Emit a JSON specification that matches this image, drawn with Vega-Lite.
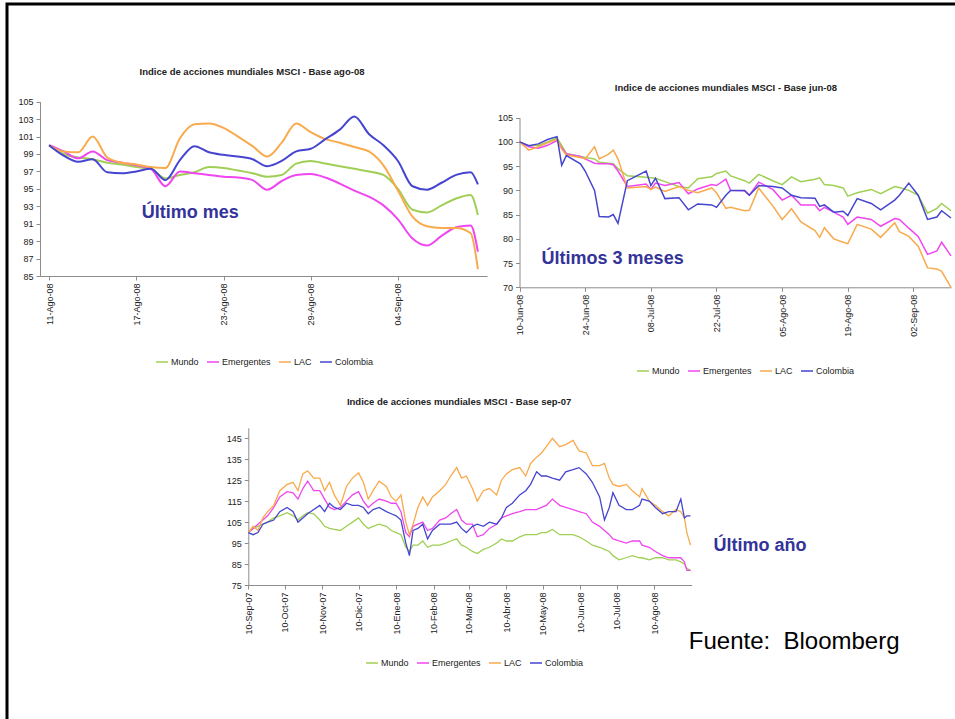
{
"$schema": "https://vega.github.io/schema/vega-lite/v6.json",
"width": 948, "height": 715,
"autosize": {"type": "none"},
"padding": {"left": 7, "top": 4, "right": 0, "bottom": 0},
"background": "white",
"view": {"stroke": "#000000", "strokeWidth": 3, "strokeDash": [949, 1662, 716, 1], "fill": "white"},
"config": {
  "font": "Liberation Sans",
  "axis": {"grid": false, "labelFontSize": 9, "labelColor": "#222222", "domainColor": "#8c8c8c", "tickColor": "#8c8c8c", "tickSize": 4, "labelPadding": 3, "labelOverlap": false},
  "legend": {"labelFontSize": 9, "labelColor": "#222222", "symbolType": "stroke", "symbolSize": 144, "symbolStrokeWidth": 1.5, "columnPadding": 5, "labelOffset": 2, "padding": 0}
},
"datasets": {
"mes": [
{"f":"2008-08-11T00:00","Mundo":100,"Emergentes":100,"LAC":100,"Colombia":100},
{"f":"2008-08-12T00:00","Mundo":99.0,"Emergentes":99.3,"LAC":99.3,"Colombia":98.8},
{"f":"2008-08-13T00:00","Mundo":98.6,"Emergentes":98.5,"LAC":99.2,"Colombia":98.1},
{"f":"2008-08-14T00:00","Mundo":98.4,"Emergentes":99.3,"LAC":101.0,"Colombia":98.4},
{"f":"2008-08-15T00:00","Mundo":98.0,"Emergentes":98.3,"LAC":98.6,"Colombia":96.9},
{"f":"2008-08-16T00:00","Mundo":97.8,"Emergentes":98.0,"LAC":98.0,"Colombia":96.8},
{"f":"2008-08-17T00:00","Mundo":97.5,"Emergentes":97.7,"LAC":97.8,"Colombia":97.0},
{"f":"2008-08-18T00:00","Mundo":97.3,"Emergentes":97.3,"LAC":97.5,"Colombia":97.3},
{"f":"2008-08-19T00:00","Mundo":96.2,"Emergentes":95.3,"LAC":97.4,"Colombia":96.0},
{"f":"2008-08-20T00:00","Mundo":96.6,"Emergentes":97.0,"LAC":100.8,"Colombia":98.3},
{"f":"2008-08-21T00:00","Mundo":96.9,"Emergentes":96.8,"LAC":102.4,"Colombia":99.9},
{"f":"2008-08-22T00:00","Mundo":97.5,"Emergentes":96.6,"LAC":102.5,"Colombia":99.2},
{"f":"2008-08-23T00:00","Mundo":97.4,"Emergentes":96.4,"LAC":102.0,"Colombia":98.9},
{"f":"2008-08-24T00:00","Mundo":97.1,"Emergentes":96.3,"LAC":101.0,"Colombia":98.7},
{"f":"2008-08-25T00:00","Mundo":96.8,"Emergentes":96.0,"LAC":99.9,"Colombia":98.4},
{"f":"2008-08-26T00:00","Mundo":96.4,"Emergentes":94.9,"LAC":98.7,"Colombia":97.6},
{"f":"2008-08-27T00:00","Mundo":96.6,"Emergentes":95.9,"LAC":100.3,"Colombia":98.2},
{"f":"2008-08-28T00:00","Mundo":97.9,"Emergentes":96.6,"LAC":102.5,"Colombia":99.3},
{"f":"2008-08-29T00:00","Mundo":98.2,"Emergentes":96.7,"LAC":101.5,"Colombia":99.6},
{"f":"2008-08-30T00:00","Mundo":97.9,"Emergentes":96.3,"LAC":100.7,"Colombia":100.7},
{"f":"2008-08-31T00:00","Mundo":97.6,"Emergentes":95.6,"LAC":100.3,"Colombia":101.8},
{"f":"2008-09-01T00:00","Mundo":97.3,"Emergentes":94.8,"LAC":99.8,"Colombia":103.3},
{"f":"2008-09-02T00:00","Mundo":97.0,"Emergentes":94.1,"LAC":99.3,"Colombia":101.3},
{"f":"2008-09-03T00:00","Mundo":96.6,"Emergentes":93.1,"LAC":97.7,"Colombia":100.0},
{"f":"2008-09-04T00:00","Mundo":95.0,"Emergentes":91.5,"LAC":94.8,"Colombia":98.2},
{"f":"2008-09-05T00:00","Mundo":92.6,"Emergentes":89.3,"LAC":91.8,"Colombia":95.3},
{"f":"2008-09-06T00:00","Mundo":92.3,"Emergentes":88.5,"LAC":90.7,"Colombia":94.9},
{"f":"2008-09-07T00:00","Mundo":93.1,"Emergentes":89.6,"LAC":90.5,"Colombia":95.7},
{"f":"2008-09-08T00:00","Mundo":93.9,"Emergentes":90.6,"LAC":90.5,"Colombia":96.6},
{"f":"2008-09-09T00:00","Mundo":94.3,"Emergentes":90.8,"LAC":89.9,"Colombia":96.9},
{"f":"2008-09-09T12:00","Mundo":92.0,"Emergentes":87.8,"LAC":85.8,"Colombia":95.5}
],
"tres": [
{"f":"2008-06-10T00:00","Mundo":100,"Emergentes":100,"LAC":100,"Colombia":100},
{"f":"2008-06-12T00:00","Mundo":99.2,"Emergentes":99,"LAC":98.3,"Colombia":99.2},
{"f":"2008-06-14T00:00","Mundo":99.3,"Emergentes":98.7,"LAC":99,"Colombia":99.6},
{"f":"2008-06-16T00:00","Mundo":100,"Emergentes":99.3,"LAC":99.8,"Colombia":100.5},
{"f":"2008-06-18T00:00","Mundo":100.8,"Emergentes":100.3,"LAC":100.5,"Colombia":101.1},
{"f":"2008-06-19T00:00","Mundo":99.3,"Emergentes":98.8,"LAC":98.5,"Colombia":95.2},
{"f":"2008-06-20T00:00","Mundo":97.6,"Emergentes":97.5,"LAC":97.3,"Colombia":97.2},
{"f":"2008-06-23T00:00","Mundo":97,"Emergentes":97,"LAC":96.8,"Colombia":95.5},
{"f":"2008-06-24T00:00","Mundo":96.8,"Emergentes":96.5,"LAC":96.5,"Colombia":94},
{"f":"2008-06-26T00:00","Mundo":96.5,"Emergentes":95.6,"LAC":99,"Colombia":90},
{"f":"2008-06-27T00:00","Mundo":95.8,"Emergentes":95.5,"LAC":96.5,"Colombia":84.6},
{"f":"2008-06-29T00:00","Mundo":95.6,"Emergentes":95.5,"LAC":97.5,"Colombia":84.5},
{"f":"2008-06-30T00:00","Mundo":95.5,"Emergentes":95.3,"LAC":98.3,"Colombia":85},
{"f":"2008-07-01T00:00","Mundo":94.5,"Emergentes":94,"LAC":96.5,"Colombia":83.2},
{"f":"2008-07-03T00:00","Mundo":93,"Emergentes":90.8,"LAC":90.5,"Colombia":92},
{"f":"2008-07-07T00:00","Mundo":92.7,"Emergentes":91.3,"LAC":90.8,"Colombia":94},
{"f":"2008-07-08T00:00","Mundo":92.6,"Emergentes":90.2,"LAC":90.2,"Colombia":91},
{"f":"2008-07-09T00:00","Mundo":92.5,"Emergentes":91.5,"LAC":90.7,"Colombia":92.5},
{"f":"2008-07-11T00:00","Mundo":91.8,"Emergentes":91,"LAC":89.8,"Colombia":88.3},
{"f":"2008-07-14T00:00","Mundo":90.8,"Emergentes":91.6,"LAC":90.8,"Colombia":88.5},
{"f":"2008-07-16T00:00","Mundo":90.5,"Emergentes":89.3,"LAC":90,"Colombia":86},
{"f":"2008-07-18T00:00","Mundo":92.4,"Emergentes":90.3,"LAC":89.5,"Colombia":87.2},
{"f":"2008-07-21T00:00","Mundo":92.8,"Emergentes":91.2,"LAC":90.5,"Colombia":87},
{"f":"2008-07-22T00:00","Mundo":93.5,"Emergentes":91,"LAC":89.5,"Colombia":86.5},
{"f":"2008-07-24T00:00","Mundo":94,"Emergentes":92.3,"LAC":86.3,"Colombia":89},
{"f":"2008-07-25T00:00","Mundo":93,"Emergentes":90,"LAC":86.5,"Colombia":90},
{"f":"2008-07-28T00:00","Mundo":92,"Emergentes":89.9,"LAC":85.8,"Colombia":90},
{"f":"2008-07-29T00:00","Mundo":91.5,"Emergentes":89,"LAC":85.9,"Colombia":89},
{"f":"2008-07-31T00:00","Mundo":93.3,"Emergentes":91.7,"LAC":90.5,"Colombia":91},
{"f":"2008-08-03T00:00","Mundo":92,"Emergentes":90.2,"LAC":86.8,"Colombia":90.8},
{"f":"2008-08-05T00:00","Mundo":91.2,"Emergentes":88,"LAC":84,"Colombia":90.5},
{"f":"2008-08-07T00:00","Mundo":92.8,"Emergentes":89,"LAC":86.2,"Colombia":89},
{"f":"2008-08-09T00:00","Mundo":91.8,"Emergentes":87,"LAC":83.5,"Colombia":88.5},
{"f":"2008-08-12T00:00","Mundo":92.3,"Emergentes":87,"LAC":81.7,"Colombia":88.4},
{"f":"2008-08-13T00:00","Mundo":92.6,"Emergentes":85.8,"LAC":80.3,"Colombia":86.7},
{"f":"2008-08-14T00:00","Mundo":91.2,"Emergentes":86.5,"LAC":82.3,"Colombia":87},
{"f":"2008-08-16T00:00","Mundo":91,"Emergentes":85.5,"LAC":80,"Colombia":85.5},
{"f":"2008-08-18T00:00","Mundo":90.5,"Emergentes":84.5,"LAC":79.3,"Colombia":85.7},
{"f":"2008-08-19T00:00","Mundo":88.8,"Emergentes":83,"LAC":79,"Colombia":84.8},
{"f":"2008-08-21T00:00","Mundo":89.5,"Emergentes":84.5,"LAC":83,"Colombia":88.3},
{"f":"2008-08-24T00:00","Mundo":90.2,"Emergentes":84,"LAC":82,"Colombia":87.3},
{"f":"2008-08-26T00:00","Mundo":89.3,"Emergentes":82.6,"LAC":80.3,"Colombia":86},
{"f":"2008-08-29T00:00","Mundo":90.8,"Emergentes":84.2,"LAC":83.3,"Colombia":88},
{"f":"2008-08-30T00:00","Mundo":90.6,"Emergentes":84,"LAC":81.5,"Colombia":89},
{"f":"2008-09-01T00:00","Mundo":90,"Emergentes":82.2,"LAC":80.5,"Colombia":91.5},
{"f":"2008-09-03T00:00","Mundo":89,"Emergentes":80.5,"LAC":78.5,"Colombia":89},
{"f":"2008-09-05T00:00","Mundo":85.3,"Emergentes":76.8,"LAC":74,"Colombia":84},
{"f":"2008-09-07T00:00","Mundo":86.3,"Emergentes":77.5,"LAC":73.8,"Colombia":84.5},
{"f":"2008-09-08T00:00","Mundo":87.3,"Emergentes":79.3,"LAC":73.3,"Colombia":85.8},
{"f":"2008-09-10T00:00","Mundo":85.8,"Emergentes":76.5,"LAC":70,"Colombia":84.3}
],
"anio": [
{"f":"2007-09-10T00:00","Mundo":100,"Emergentes":100,"LAC":100,"Colombia":100},
{"f":"2007-09-14T00:00","Mundo":102,"Emergentes":102,"LAC":103,"Colombia":99},
{"f":"2007-09-18T00:00","Mundo":103,"Emergentes":104,"LAC":101,"Colombia":100},
{"f":"2007-09-22T00:00","Mundo":104,"Emergentes":106,"LAC":107,"Colombia":104},
{"f":"2007-09-26T00:00","Mundo":105,"Emergentes":108,"LAC":110,"Colombia":105},
{"f":"2007-10-01T00:00","Mundo":107,"Emergentes":112,"LAC":113,"Colombia":106},
{"f":"2007-10-06T00:00","Mundo":108,"Emergentes":117,"LAC":120,"Colombia":110},
{"f":"2007-10-12T00:00","Mundo":109.5,"Emergentes":119.5,"LAC":123,"Colombia":112},
{"f":"2007-10-17T00:00","Mundo":108,"Emergentes":119,"LAC":124,"Colombia":110},
{"f":"2007-10-21T00:00","Mundo":106,"Emergentes":116,"LAC":120,"Colombia":105},
{"f":"2007-10-25T00:00","Mundo":108,"Emergentes":121,"LAC":128,"Colombia":107},
{"f":"2007-10-29T00:00","Mundo":109.5,"Emergentes":124.5,"LAC":129.5,"Colombia":109},
{"f":"2007-11-03T00:00","Mundo":109,"Emergentes":120,"LAC":126,"Colombia":111},
{"f":"2007-11-08T00:00","Mundo":106,"Emergentes":120,"LAC":126,"Colombia":113},
{"f":"2007-11-12T00:00","Mundo":103,"Emergentes":116,"LAC":120,"Colombia":110},
{"f":"2007-11-16T00:00","Mundo":102,"Emergentes":112,"LAC":124,"Colombia":114},
{"f":"2007-11-20T00:00","Mundo":101.5,"Emergentes":111,"LAC":118,"Colombia":112},
{"f":"2007-11-25T00:00","Mundo":101,"Emergentes":112,"LAC":113,"Colombia":111},
{"f":"2007-11-30T00:00","Mundo":103,"Emergentes":115,"LAC":122,"Colombia":114},
{"f":"2007-12-05T00:00","Mundo":105,"Emergentes":118,"LAC":126,"Colombia":113},
{"f":"2007-12-10T00:00","Mundo":107,"Emergentes":119.5,"LAC":128.5,"Colombia":113},
{"f":"2007-12-14T00:00","Mundo":104,"Emergentes":115,"LAC":124,"Colombia":112},
{"f":"2007-12-18T00:00","Mundo":102,"Emergentes":112,"LAC":116,"Colombia":109},
{"f":"2007-12-22T00:00","Mundo":103,"Emergentes":114,"LAC":120,"Colombia":111},
{"f":"2007-12-27T00:00","Mundo":104,"Emergentes":116,"LAC":124.5,"Colombia":112},
{"f":"2008-01-02T00:00","Mundo":103,"Emergentes":115,"LAC":122,"Colombia":110},
{"f":"2008-01-06T00:00","Mundo":101,"Emergentes":114,"LAC":117,"Colombia":109},
{"f":"2008-01-10T00:00","Mundo":100,"Emergentes":114,"LAC":115,"Colombia":108},
{"f":"2008-01-14T00:00","Mundo":99,"Emergentes":110,"LAC":118,"Colombia":106},
{"f":"2008-01-18T00:00","Mundo":93,"Emergentes":100,"LAC":105,"Colombia":95},
{"f":"2008-01-21T00:00","Mundo":91,"Emergentes":98,"LAC":99,"Colombia":89},
{"f":"2008-01-24T00:00","Mundo":94,"Emergentes":103,"LAC":104,"Colombia":101},
{"f":"2008-01-28T00:00","Mundo":94,"Emergentes":104,"LAC":112,"Colombia":102},
{"f":"2008-02-01T00:00","Mundo":96,"Emergentes":105,"LAC":117,"Colombia":104},
{"f":"2008-02-05T00:00","Mundo":93,"Emergentes":101,"LAC":113,"Colombia":97},
{"f":"2008-02-09T00:00","Mundo":94,"Emergentes":102,"LAC":117,"Colombia":101},
{"f":"2008-02-15T00:00","Mundo":94,"Emergentes":106,"LAC":120,"Colombia":104},
{"f":"2008-02-20T00:00","Mundo":95,"Emergentes":107,"LAC":123,"Colombia":104},
{"f":"2008-02-24T00:00","Mundo":96,"Emergentes":109,"LAC":127,"Colombia":104},
{"f":"2008-02-29T00:00","Mundo":97,"Emergentes":111,"LAC":131,"Colombia":105},
{"f":"2008-03-04T00:00","Mundo":94,"Emergentes":106,"LAC":126,"Colombia":102},
{"f":"2008-03-08T00:00","Mundo":93,"Emergentes":104,"LAC":127,"Colombia":100},
{"f":"2008-03-13T00:00","Mundo":91,"Emergentes":104,"LAC":121,"Colombia":103},
{"f":"2008-03-17T00:00","Mundo":90,"Emergentes":98,"LAC":115,"Colombia":104},
{"f":"2008-03-22T00:00","Mundo":92,"Emergentes":99,"LAC":120,"Colombia":103},
{"f":"2008-03-27T00:00","Mundo":93,"Emergentes":102,"LAC":121,"Colombia":105},
{"f":"2008-04-02T00:00","Mundo":95,"Emergentes":104,"LAC":118,"Colombia":104},
{"f":"2008-04-06T00:00","Mundo":97,"Emergentes":107,"LAC":125,"Colombia":107},
{"f":"2008-04-10T00:00","Mundo":96,"Emergentes":108,"LAC":128,"Colombia":112},
{"f":"2008-04-15T00:00","Mundo":96,"Emergentes":109,"LAC":130,"Colombia":114},
{"f":"2008-04-21T00:00","Mundo":98,"Emergentes":110,"LAC":131,"Colombia":118},
{"f":"2008-04-26T00:00","Mundo":99,"Emergentes":111,"LAC":127,"Colombia":120},
{"f":"2008-04-30T00:00","Mundo":99,"Emergentes":111,"LAC":133,"Colombia":123},
{"f":"2008-05-05T00:00","Mundo":99,"Emergentes":111,"LAC":136,"Colombia":129},
{"f":"2008-05-09T00:00","Mundo":100,"Emergentes":112,"LAC":138,"Colombia":127},
{"f":"2008-05-13T00:00","Mundo":100,"Emergentes":113,"LAC":141,"Colombia":127},
{"f":"2008-05-18T00:00","Mundo":101.5,"Emergentes":116,"LAC":145,"Colombia":126},
{"f":"2008-05-24T00:00","Mundo":99,"Emergentes":113,"LAC":141,"Colombia":125},
{"f":"2008-05-29T00:00","Mundo":99,"Emergentes":112,"LAC":142,"Colombia":129},
{"f":"2008-06-04T00:00","Mundo":99,"Emergentes":111,"LAC":144,"Colombia":130},
{"f":"2008-06-09T00:00","Mundo":98,"Emergentes":110,"LAC":139,"Colombia":131},
{"f":"2008-06-15T00:00","Mundo":96,"Emergentes":109,"LAC":138,"Colombia":128},
{"f":"2008-06-20T00:00","Mundo":94,"Emergentes":105,"LAC":132,"Colombia":124},
{"f":"2008-06-26T00:00","Mundo":93,"Emergentes":103,"LAC":132,"Colombia":117},
{"f":"2008-06-30T00:00","Mundo":92,"Emergentes":101,"LAC":133,"Colombia":106},
{"f":"2008-07-04T00:00","Mundo":91,"Emergentes":99,"LAC":126,"Colombia":112},
{"f":"2008-07-07T00:00","Mundo":89,"Emergentes":97,"LAC":123,"Colombia":119},
{"f":"2008-07-12T00:00","Mundo":87,"Emergentes":96,"LAC":122,"Colombia":113},
{"f":"2008-07-18T00:00","Mundo":88,"Emergentes":95,"LAC":123,"Colombia":111},
{"f":"2008-07-23T00:00","Mundo":89,"Emergentes":96,"LAC":120,"Colombia":111},
{"f":"2008-07-29T00:00","Mundo":88,"Emergentes":96,"LAC":117,"Colombia":113},
{"f":"2008-07-31T00:00","Mundo":88,"Emergentes":94,"LAC":121,"Colombia":116},
{"f":"2008-08-06T00:00","Mundo":87,"Emergentes":93,"LAC":115,"Colombia":115},
{"f":"2008-08-11T00:00","Mundo":88,"Emergentes":91,"LAC":113,"Colombia":112},
{"f":"2008-08-17T00:00","Mundo":88,"Emergentes":89,"LAC":110,"Colombia":109},
{"f":"2008-08-22T00:00","Mundo":87,"Emergentes":88,"LAC":108,"Colombia":110},
{"f":"2008-08-28T00:00","Mundo":87,"Emergentes":88,"LAC":111,"Colombia":110},
{"f":"2008-09-01T00:00","Mundo":86,"Emergentes":88,"LAC":110,"Colombia":116},
{"f":"2008-09-04T00:00","Mundo":85,"Emergentes":86,"LAC":107,"Colombia":107},
{"f":"2008-09-06T00:00","Mundo":83,"Emergentes":82,"LAC":100,"Colombia":108},
{"f":"2008-09-09T00:00","Mundo":82,"Emergentes":82,"LAC":94,"Colombia":108}
]
},
"layer": [
{
 "layer": [
  {
   "data": {"name": "mes"},
   "transform": [{"fold": ["Mundo", "Emergentes", "LAC", "Colombia"], "as": ["serie", "valor"]}],
   "mark": {"type": "line", "interpolate": "monotone", "strokeWidth": 2},
   "encoding": {
    "x": {"field": "f", "type": "temporal",
          "scale": {"domain": [{"year": 2008, "month": 8, "date": 10, "hours": 9}, {"year": 2008, "month": 9, "date": 10, "hours": 3}], "range": [33, 480]},
          "axis": {"orient": "bottom", "offset": -443, "title": null, "labelAngle": 270,
                   "values": [{"year": 2008, "month": 8, "date": 11}, {"year": 2008, "month": 8, "date": 17}, {"year": 2008, "month": 8, "date": 23}, {"year": 2008, "month": 8, "date": 29}, {"year": 2008, "month": 9, "date": 4}],
                   "labelExpr": "timeFormat(datum.value,'%d')+'-'+['Ene','Feb','Mar','Abr','May','Jun','Jul','Ago','Sep','Oct','Nov','Dic'][month(datum.value)]+'-'+timeFormat(datum.value,'%y')"}},
    "y": {"field": "valor", "type": "quantitative",
          "scale": {"domain": [85, 105], "range": [272, 97.7], "zero": false, "nice": false},
          "axis": {"orient": "left", "offset": -33, "title": null, "values": [85, 87, 89, 91, 93, 95, 97, 99, 101, 103, 105]}},
    "color": {"field": "serie", "type": "nominal",
              "scale": {"domain": ["Mundo", "Emergentes", "LAC", "Colombia"], "range": ["#a0cf55", "#f046f0", "#f8aa4c", "#4545cf"]},
              "legend": {"orient": "none", "legendX": 148, "legendY": 351, "direction": "horizontal", "columns": 4, "title": null}}
   }
  },
  {
   "data": {"values": [{}]},
   "mark": {"type": "text", "fontSize": 9.5, "fontWeight": "bold", "color": "#222222", "align": "center", "baseline": "middle"},
   "encoding": {
    "x": {"datum": {"year": 2008, "month": 8, "date": 24, "hours": 23}, "type": "temporal"},
    "y": {"datum": 108.4, "type": "quantitative"},
    "text": {"value": "Indice de acciones mundiales MSCI - Base ago-08"}
   }
  },
  {
   "data": {"values": [{}]},
   "mark": {"type": "text", "fontSize": 18, "fontWeight": "bold", "color": "#333399", "align": "left", "baseline": "middle"},
   "encoding": {
    "x": {"datum": {"year": 2008, "month": 8, "date": 17, "hours": 9}, "type": "temporal"},
    "y": {"datum": 92.2, "type": "quantitative"},
    "text": {"value": "Último mes"}
   }
  }
 ]
},
{
 "layer": [
  {
   "data": {"name": "tres"},
   "transform": [{"fold": ["Mundo", "Emergentes", "LAC", "Colombia"], "as": ["serie", "valor"]}],
   "mark": {"type": "line", "strokeWidth": 1.5},
   "encoding": {
    "x": {"field": "f", "type": "temporal",
          "scale": {"domain": [{"year": 2008, "month": 6, "date": 10}, {"year": 2008, "month": 9, "date": 10}], "range": [512.5, 944]},
          "axis": {"orient": "bottom", "offset": -431.7, "title": null, "labelAngle": 270,
                   "values": [{"year": 2008, "month": 6, "date": 10}, {"year": 2008, "month": 6, "date": 24}, {"year": 2008, "month": 7, "date": 8}, {"year": 2008, "month": 7, "date": 22}, {"year": 2008, "month": 8, "date": 5}, {"year": 2008, "month": 8, "date": 19}, {"year": 2008, "month": 9, "date": 2}],
                   "labelExpr": "timeFormat(datum.value,'%d')+'-'+['Ene','Feb','Mar','Abr','May','Jun','Jul','Ago','Sep','Oct','Nov','Dic'][month(datum.value)]+'-'+timeFormat(datum.value,'%y')"}},
    "y": {"field": "valor", "type": "quantitative",
          "scale": {"domain": [70, 105], "range": [283.3, 113.7], "zero": false, "nice": false},
          "axis": {"orient": "left", "offset": -512.5, "title": null, "values": [70, 75, 80, 85, 90, 95, 100, 105]}},
    "color": {"field": "serie", "type": "nominal",
              "scale": {"domain": ["Mundo", "Emergentes", "LAC", "Colombia"], "range": ["#a0cf55", "#f046f0", "#f8aa4c", "#4545cf"]},
              "legend": {"orient": "none", "legendX": 629, "legendY": 360, "direction": "horizontal", "columns": 4, "title": null}}
   }
  },
  {
   "data": {"values": [{}]},
   "mark": {"type": "text", "fontSize": 9.5, "fontWeight": "bold", "color": "#222222", "align": "center", "baseline": "middle"},
   "encoding": {
    "x": {"datum": {"year": 2008, "month": 7, "date": 24}, "type": "temporal"},
    "y": {"datum": 111.1, "type": "quantitative"},
    "text": {"value": "Indice de acciones mundiales MSCI - Base jun-08"}
   }
  },
  {
   "data": {"values": [{}]},
   "mark": {"type": "text", "fontSize": 18, "fontWeight": "bold", "color": "#333399", "align": "left", "baseline": "middle"},
   "encoding": {
    "x": {"datum": {"year": 2008, "month": 6, "date": 14, "hours": 17}, "type": "temporal"},
    "y": {"datum": 75.8, "type": "quantitative"},
    "text": {"value": "Últimos 3 meses"}
   }
  }
 ]
},
{
 "layer": [
  {
   "data": {"name": "anio"},
   "transform": [{"fold": ["Mundo", "Emergentes", "LAC", "Colombia"], "as": ["serie", "valor"]}],
   "mark": {"type": "line", "strokeWidth": 1.3},
   "encoding": {
    "x": {"field": "f", "type": "temporal",
          "scale": {"domain": [{"year": 2007, "month": 9, "date": 10}, {"year": 2008, "month": 9, "date": 10}], "range": [241.3, 684.7]},
          "axis": {"orient": "bottom", "offset": -134, "title": null, "labelAngle": 270,
                   "values": [{"year": 2007, "month": 9, "date": 10}, {"year": 2007, "month": 10, "date": 10}, {"year": 2007, "month": 11, "date": 10}, {"year": 2007, "month": 12, "date": 10}, {"year": 2008, "month": 1, "date": 10}, {"year": 2008, "month": 2, "date": 10}, {"year": 2008, "month": 3, "date": 10}, {"year": 2008, "month": 4, "date": 10}, {"year": 2008, "month": 5, "date": 10}, {"year": 2008, "month": 6, "date": 10}, {"year": 2008, "month": 7, "date": 10}, {"year": 2008, "month": 8, "date": 10}],
                   "labelExpr": "timeFormat(datum.value,'%d')+'-'+['Ene','Feb','Mar','Abr','May','Jun','Jul','Ago','Sep','Oct','Nov','Dic'][month(datum.value)]+'-'+timeFormat(datum.value,'%y')"}},
    "y": {"field": "valor", "type": "quantitative",
          "scale": {"domain": [75, 150], "range": [581, 423.8], "zero": false, "nice": false},
          "axis": {"orient": "left", "offset": -241.3, "title": null, "values": [75, 85, 95, 105, 115, 125, 135, 145]}},
    "color": {"field": "serie", "type": "nominal",
              "scale": {"domain": ["Mundo", "Emergentes", "LAC", "Colombia"], "range": ["#a0cf55", "#f046f0", "#f8aa4c", "#4545cf"]},
              "legend": {"orient": "none", "legendX": 358, "legendY": 652, "direction": "horizontal", "columns": 4, "title": null}}
   }
  },
  {
   "data": {"values": [{}]},
   "mark": {"type": "text", "fontSize": 9.5, "fontWeight": "bold", "color": "#222222", "align": "center", "baseline": "middle"},
   "encoding": {
    "x": {"datum": {"year": 2008, "month": 3, "date": 2}, "type": "temporal"},
    "y": {"datum": 162.3, "type": "quantitative"},
    "text": {"value": "Indice de acciones mundiales MSCI - Base sep-07"}
   }
  },
  {
   "data": {"values": [{}]},
   "mark": {"type": "text", "fontSize": 18, "fontWeight": "bold", "color": "#333399", "align": "left", "baseline": "middle"},
   "encoding": {
    "x": {"datum": {"year": 2008, "month": 9, "date": 28}, "type": "temporal"},
    "y": {"datum": 93.6, "type": "quantitative"},
    "text": {"value": "Último año"}
   }
  },
  {
   "data": {"values": [{}]},
   "mark": {"type": "text", "fontSize": 24, "color": "#000000", "align": "left", "baseline": "alphabetic"},
   "encoding": {
    "x": {"datum": {"year": 2008, "month": 9, "date": 7, "hours": 14}, "type": "temporal"},
    "y": {"datum": 44.3, "type": "quantitative"},
    "text": {"value": "Fuente: \u00a0Bloomberg"}
   }
  }
 ]
}
],
"resolve": {
  "scale": {"x": "independent", "y": "independent", "color": "independent"},
  "axis": {"x": "independent", "y": "independent"},
  "legend": {"color": "independent"}
}
}
